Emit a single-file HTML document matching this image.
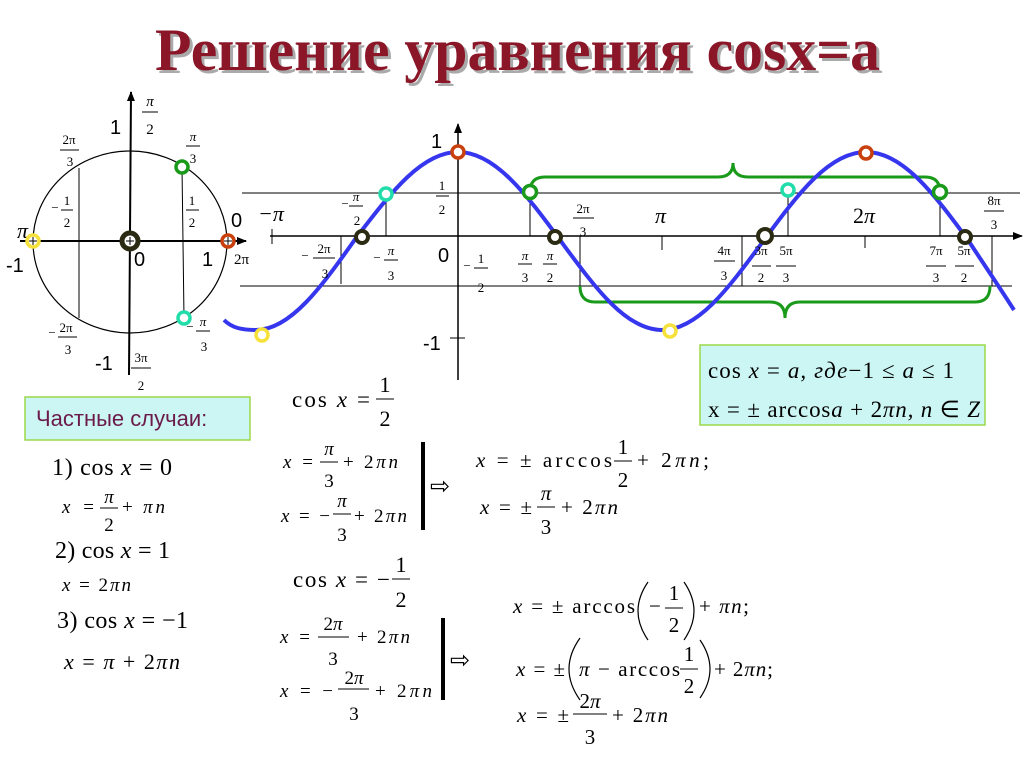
<!DOCTYPE html>
<html><head><meta charset="utf-8"><style>
body{margin:0;background:#fff;}
svg text{font-family:"Liberation Serif",serif;fill:#000;}
.s{font-family:"Liberation Sans",sans-serif !important;}
.i{font-style:italic;}
</style></head><body>
<svg width="1024" height="768" viewBox="0 0 1024 768" xmlns="http://www.w3.org/2000/svg">
<defs>
<marker id="ar" markerWidth="10" markerHeight="8" refX="9" refY="4" orient="auto" markerUnits="userSpaceOnUse"><path d="M0,0 L10,4 L0,8 Z" fill="#000"/></marker>
</defs>
<!-- Title -->
<text x="158" y="73" font-size="60" font-weight="bold" style="fill:#aaa" textLength="725" lengthAdjust="spacingAndGlyphs">Решение уравнения cosx=a</text>
<text x="155" y="70" font-size="60" font-weight="bold" style="fill:#8a1628" textLength="725" lengthAdjust="spacingAndGlyphs">Решение уравнения cosx=a</text>

<!-- Unit circle -->
<ellipse cx="130" cy="242" rx="97" ry="91" fill="none" stroke="#000" stroke-width="1.2"/>
<line x1="20" y1="241" x2="246" y2="241" stroke="#000" stroke-width="2" marker-end="url(#ar)"/>
<line x1="129" y1="375" x2="131" y2="92" stroke="#000" stroke-width="2" marker-end="url(#ar)"/>
<line x1="79" y1="168" x2="79" y2="318" stroke="#000" stroke-width="1"/>
<line x1="182" y1="167" x2="184" y2="318" stroke="#000" stroke-width="1"/>
<text x="110" y="134" class="s" font-size="20">1</text>
<g font-size="15" text-anchor="middle"><text x="150" y="106" class="i">π</text><line x1="142" y1="112" x2="158" y2="112" stroke="#000"/><text x="150" y="134">2</text></g>
<g font-size="13" text-anchor="middle"><text x="69" y="144">2π</text><line x1="60" y1="150" x2="79" y2="150" stroke="#000"/><text x="70" y="166">3</text></g>
<g font-size="13" text-anchor="middle"><text x="193" y="141" class="i">π</text><line x1="186" y1="146" x2="200" y2="146" stroke="#000"/><text x="193" y="163">3</text></g>
<g font-size="13" text-anchor="middle"><text x="55" y="212">−</text><text x="67" y="205">1</text><line x1="61" y1="210" x2="73" y2="210" stroke="#000"/><text x="67" y="227">2</text></g>
<g font-size="13" text-anchor="middle"><text x="192" y="205">1</text><line x1="186" y1="210" x2="199" y2="210" stroke="#000"/><text x="192" y="227">2</text></g>
<text x="17" y="238" font-size="22" class="i">π</text>
<text x="6" y="272" class="s" font-size="20">-1</text>
<text x="134" y="266" class="s" font-size="20">0</text>
<text x="202" y="266" class="s" font-size="20">1</text>
<text x="231" y="227" class="s" font-size="20">0</text>
<text x="234" y="264" font-size="15">2π</text>
<g font-size="13" text-anchor="middle"><text x="52" y="337">−</text><text x="66" y="332">2π</text><line x1="58" y1="337" x2="77" y2="337" stroke="#000"/><text x="68" y="354">3</text></g>
<g font-size="13" text-anchor="middle"><text x="190" y="331">−</text><text x="203" y="326" class="i">π</text><line x1="196" y1="331" x2="210" y2="331" stroke="#000"/><text x="204" y="351">3</text></g>
<text x="95" y="370" class="s" font-size="20">-1</text>
<g font-size="13" text-anchor="middle"><text x="141" y="362">3π</text><line x1="131" y1="368" x2="151" y2="368" stroke="#000"/><text x="141" y="390">2</text></g>
<!-- circle dots -->
<g stroke="#000" stroke-width="1">
<circle cx="33" cy="241" r="6" fill="#fff" stroke="#f5e13a" stroke-width="3.5"/>
<circle cx="130" cy="241" r="8" fill="#fff" stroke="#2b2b14" stroke-width="5"/>
<circle cx="228" cy="241" r="6" fill="#fff" stroke="#c8400c" stroke-width="3.5"/>
<circle cx="182" cy="167" r="6" fill="#fff" stroke="#1a9a1a" stroke-width="3.5"/>
<circle cx="184" cy="318" r="6" fill="#fff" stroke="#22ddaa" stroke-width="3.5"/>
<path d="M29,241h8M33,237v8M126,241h8M130,237v8M224,241h8M228,237v8"/>
</g>

<!-- Graph axes -->
<line x1="270" y1="236" x2="1022" y2="236" stroke="#000" stroke-width="1.5" marker-end="url(#ar)"/>
<line x1="458" y1="380" x2="458" y2="124" stroke="#000" stroke-width="1.5" marker-end="url(#ar)"/>
<line x1="242" y1="193" x2="1020" y2="193" stroke="#000" stroke-width="1"/>
<line x1="240" y1="286" x2="1012" y2="286" stroke="#000" stroke-width="1"/>
<line x1="272" y1="229" x2="272" y2="244" stroke="#000"/>
<line x1="662" y1="236" x2="662" y2="250" stroke="#000"/>
<line x1="865" y1="236" x2="865" y2="248" stroke="#000"/>
<line x1="450" y1="338" x2="465" y2="338" stroke="#000"/>
<g stroke="#000" stroke-width="1">
<line x1="341" y1="236" x2="341" y2="284"/>
<line x1="386" y1="193" x2="386" y2="236"/>
<line x1="530" y1="193" x2="530" y2="236"/>
<line x1="580" y1="236" x2="580" y2="286"/>
<line x1="742" y1="236" x2="742" y2="286"/>
<line x1="788" y1="193" x2="788" y2="236"/>
<line x1="940" y1="193" x2="940" y2="236"/>
<line x1="992" y1="236" x2="992" y2="286"/>
</g>
<!-- brackets -->
<g fill="none" stroke="#1a9a1a" stroke-width="3">
<path d="M530,192 Q530,177 545,177 L718,177 Q733,177 733,163 Q733,177 748,177 L925,177 Q940,177 940,192"/>
<path d="M580,286 Q580,302 595,302 L770,302 Q785,302 785,318 Q785,302 800,302 L975,302 Q990,302 990,286"/>
</g>
<!-- cosine -->
<path d="M224,320 C232,328 242,330 256,330 C290.7,330 321.9,286.2 356,238 C390.1,193.8 421.3,152 458,152 C494.7,152 525.9,193.8 560,240 C594.1,286.2 625.3,330 662,330 C698.7,330 729.9,286.2 764,240 C798.1,193.8 829.3,152 866,152 C902.7,152 933.9,193.8 968,240 C985,266 1000,288 1014,310" fill="none" stroke="#3636ee" stroke-width="4"/>
<!-- graph dots -->
<circle cx="458" cy="152" r="6" fill="#fff" stroke="#c8400c" stroke-width="3.5"/>
<circle cx="866" cy="153" r="6" fill="#fff" stroke="#c8400c" stroke-width="3.5"/>
<circle cx="386" cy="194" r="6" fill="#fff" stroke="#22ddaa" stroke-width="3.5"/>
<circle cx="788" cy="190" r="6" fill="#fff" stroke="#22ddaa" stroke-width="3.5"/>
<circle cx="530" cy="192" r="6.5" fill="#fff" stroke="#1a9a1a" stroke-width="3.5"/>
<circle cx="940" cy="192" r="6.5" fill="#fff" stroke="#1a9a1a" stroke-width="3.5"/>
<circle cx="362" cy="237" r="6" fill="#fff" stroke="#2b2b14" stroke-width="4"/>
<circle cx="555" cy="237" r="6" fill="#fff" stroke="#2b2b14" stroke-width="4"/>
<circle cx="765" cy="236" r="7" fill="#fff" stroke="#2b2b14" stroke-width="4"/>
<circle cx="965" cy="237" r="6" fill="#fff" stroke="#2b2b14" stroke-width="4"/>
<circle cx="262" cy="335" r="6" fill="#fff" stroke="#f5e13a" stroke-width="3.5"/>
<circle cx="670" cy="331" r="6" fill="#fff" stroke="#f5e13a" stroke-width="3.5"/>
<!-- graph labels -->
<text x="431" y="148" class="s" font-size="20">1</text>
<text x="438" y="262" class="s" font-size="20">0</text>
<text x="423" y="350" class="s" font-size="20">-1</text>
<text x="258" y="221" font-size="22" class="i">−π</text>
<text x="655" y="223" font-size="22" class="i">π</text>
<text x="853" y="223" font-size="22">2<tspan class="i">π</tspan></text>
<g font-size="13" text-anchor="middle">
<text x="345" y="208">−</text><text x="356" y="201" class="i">π</text><line x1="349" y1="206" x2="363" y2="206" stroke="#000"/><text x="357" y="225">2</text>
<text x="305" y="260">−</text><text x="324" y="253">2π</text><line x1="313" y1="258" x2="335" y2="258" stroke="#000"/><text x="325" y="278">3</text>
<text x="377" y="262">−</text><text x="391" y="255" class="i">π</text><line x1="384" y1="260" x2="398" y2="260" stroke="#000"/><text x="391" y="280">3</text>
<text x="442" y="190">1</text><line x1="436" y1="196" x2="449" y2="196" stroke="#000"/><text x="442" y="214">2</text>
<text x="467" y="270">−</text><text x="481" y="263">1</text><line x1="474" y1="268" x2="488" y2="268" stroke="#000"/><text x="481" y="292">2</text>
<text x="525" y="260" class="i">π</text><line x1="518" y1="264" x2="532" y2="264" stroke="#000"/><text x="525" y="282">3</text>
<text x="550" y="260" class="i">π</text><line x1="543" y1="264" x2="557" y2="264" stroke="#000"/><text x="550" y="282">2</text>
<text x="583" y="213">2π</text><line x1="573" y1="218" x2="594" y2="218" stroke="#000"/><text x="583" y="236">3</text>
<text x="724" y="255">4π</text><line x1="714" y1="261" x2="735" y2="261" stroke="#000"/><text x="724" y="280">3</text>
<text x="761" y="255">3π</text><line x1="752" y1="266" x2="771" y2="266" stroke="#000"/><text x="761" y="282">2</text>
<text x="786" y="255">5π</text><line x1="776" y1="266" x2="796" y2="266" stroke="#000"/><text x="786" y="282">3</text>
<text x="936" y="255">7π</text><line x1="926" y1="266" x2="946" y2="266" stroke="#000"/><text x="936" y="282">3</text>
<text x="964" y="255">5π</text><line x1="955" y1="266" x2="974" y2="266" stroke="#000"/><text x="964" y="282">2</text>
<text x="994" y="205">8π</text><line x1="984" y1="211" x2="1004" y2="211" stroke="#000"/><text x="994" y="229">3</text>
</g>

<!-- formula box -->
<rect x="700" y="345" width="285" height="80" fill="#ccf6f4" stroke="#9cd84a" stroke-width="1.5"/>
<text x="708" y="378" font-size="23" textLength="246">cos <tspan class="i">x</tspan> = <tspan class="i">a, где</tspan>−1 ≤ <tspan class="i">a</tspan> ≤ 1</text>
<text x="708" y="417" font-size="23" textLength="272">x = ± arccos<tspan class="i">a</tspan> + 2<tspan class="i">πn, n</tspan> ∈ <tspan class="i">Z</tspan></text>

<rect x="25" y="397" width="225" height="43" fill="#ccf6f4" stroke="#9cd84a" stroke-width="1.5"/>
<text x="36" y="426" class="s" font-size="22" style="fill:#6b1a4a">Частные случаи:</text>

<!-- left column -->
<text x="52" y="475" font-size="24" textLength="120">1) cos <tspan class="i">x</tspan> = 0</text>
<text x="62" y="513" font-size="19" textLength="32"><tspan class="i">x</tspan> =</text>
<g font-size="19" text-anchor="middle"><text x="109" y="503" class="i">π</text><line x1="100" y1="508" x2="118" y2="508" stroke="#000"/><text x="109" y="531">2</text></g>
<text x="122" y="513" font-size="19" textLength="43">+ <tspan class="i">πn</tspan></text>
<text x="55" y="558" font-size="24" textLength="115">2) cos <tspan class="i">x</tspan> = 1</text>
<text x="62" y="591" font-size="19" textLength="69"><tspan class="i">x</tspan> = 2<tspan class="i">πn</tspan></text>
<text x="57" y="628" font-size="24" textLength="131">3) cos <tspan class="i">x</tspan> = −1</text>
<text x="64" y="669" font-size="22" textLength="116"><tspan class="i">x</tspan> = <tspan class="i">π</tspan> + 2<tspan class="i">πn</tspan></text>

<!-- middle column -->
<text x="292" y="407" font-size="23" textLength="78">cos <tspan class="i">x</tspan> =</text>
<g font-size="22" text-anchor="middle"><text x="385" y="392">1</text><line x1="376" y1="399" x2="394" y2="399" stroke="#000"/><text x="385" y="426">2</text></g>
<text x="283" y="468" font-size="19" textLength="30"><tspan class="i">x</tspan> =</text>
<g font-size="19" text-anchor="middle"><text x="329" y="455" class="i">π</text><line x1="320" y1="462" x2="338" y2="462" stroke="#000"/><text x="329" y="487">3</text></g>
<text x="343" y="468" font-size="19" textLength="55">+ 2<tspan class="i">πn</tspan></text>
<text x="281" y="522" font-size="19" textLength="49"><tspan class="i">x</tspan> = −</text>
<g font-size="19" text-anchor="middle"><text x="342" y="507" class="i">π</text><line x1="333" y1="514" x2="351" y2="514" stroke="#000"/><text x="342" y="541">3</text></g>
<text x="354" y="522" font-size="19" textLength="53">+ 2<tspan class="i">πn</tspan></text>
<rect x="421" y="442" width="4" height="88" fill="#000"/>
<text x="430" y="494" font-size="24" class="s">⇨</text>
<text x="476" y="467" font-size="21" textLength="136"><tspan class="i">x</tspan> = ± arccos</text>
<g font-size="21" text-anchor="middle"><text x="623" y="454">1</text><line x1="614" y1="461" x2="632" y2="461" stroke="#000"/><text x="623" y="487">2</text></g>
<text x="637" y="467" font-size="21" textLength="72">+ 2<tspan class="i">πn</tspan>;</text>
<text x="480" y="514" font-size="21" textLength="52"><tspan class="i">x</tspan> = ±</text>
<g font-size="21" text-anchor="middle"><text x="546" y="500" class="i">π</text><line x1="537" y1="507" x2="555" y2="507" stroke="#000"/><text x="546" y="534">3</text></g>
<text x="561" y="514" font-size="21" textLength="57">+ 2<tspan class="i">πn</tspan></text>

<text x="293" y="587" font-size="23" textLength="97">cos <tspan class="i">x</tspan> = −</text>
<g font-size="22" text-anchor="middle"><text x="401" y="572">1</text><line x1="392" y1="579" x2="410" y2="579" stroke="#000"/><text x="401" y="607">2</text></g>
<text x="280" y="643" font-size="19" textLength="30"><tspan class="i">x</tspan> =</text>
<g font-size="19" text-anchor="middle"><text x="333" y="630">2<tspan class="i">π</tspan></text><line x1="318" y1="637" x2="349" y2="637" stroke="#000"/><text x="333" y="665">3</text></g>
<text x="357" y="643" font-size="19" textLength="53">+ 2<tspan class="i">πn</tspan></text>
<text x="280" y="697" font-size="19" textLength="53"><tspan class="i">x</tspan> = −</text>
<g font-size="19" text-anchor="middle"><text x="354" y="684">2<tspan class="i">π</tspan></text><line x1="338" y1="689" x2="369" y2="689" stroke="#000"/><text x="354" y="720">3</text></g>
<text x="375" y="697" font-size="19" textLength="57">+ 2<tspan class="i">πn</tspan></text>
<rect x="441" y="618" width="4" height="82" fill="#000"/>
<text x="450" y="668" font-size="24" class="s">⇨</text>

<text x="513" y="613" font-size="21" textLength="122"><tspan class="i">x</tspan> = ± arccos</text>
<g fill="none" stroke="#000" stroke-width="1.2">
<path d="M648,582 Q628,611 648,640"/><path d="M684,582 Q704,611 684,640"/>
<path d="M580,638 Q558,669 580,700"/><path d="M700,640 Q720,669 700,698"/>
</g>
<text x="649" y="613" font-size="21">−</text>
<g font-size="21" text-anchor="middle"><text x="674" y="600">1</text><line x1="665" y1="608" x2="683" y2="608" stroke="#000"/><text x="674" y="632">2</text></g>
<text x="699" y="613" font-size="21" textLength="50">+ <tspan class="i">πn</tspan>;</text>
<text x="516" y="676" font-size="21" textLength="49"><tspan class="i">x</tspan> = ±</text>
<text x="579" y="676" font-size="21" textLength="101"><tspan class="i">π</tspan> − arccos</text>
<g font-size="21" text-anchor="middle"><text x="689" y="661">1</text><line x1="680" y1="669" x2="698" y2="669" stroke="#000"/><text x="689" y="693">2</text></g>
<text x="714" y="676" font-size="21" textLength="59">+ 2<tspan class="i">πn</tspan>;</text>
<text x="517" y="722" font-size="21" textLength="52"><tspan class="i">x</tspan> = ±</text>
<g font-size="21" text-anchor="middle"><text x="590" y="708">2<tspan class="i">π</tspan></text><line x1="573" y1="714" x2="607" y2="714" stroke="#000"/><text x="590" y="744">3</text></g>
<text x="612" y="722" font-size="21" textLength="56">+ 2<tspan class="i">πn</tspan></text>
</svg>
</body></html>
